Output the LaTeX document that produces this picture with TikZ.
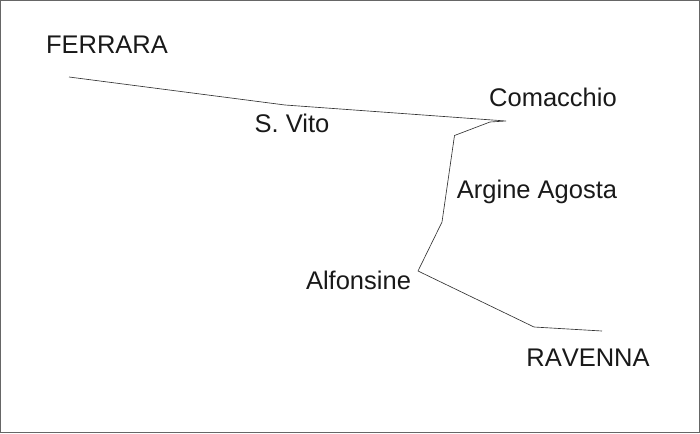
\documentclass[tikz,border=0pt]{standalone}
\usepackage{fontspec}
\setmainfont{Liberation Sans}
\begin{document}
\begin{tikzpicture}[x=1pt,y=-1pt,
  lab/.style={inner sep=0pt,font=\fontsize{25.5}{28}\selectfont,text=black!90},
  route/.style={draw=black!80,line width=0.65pt}]
\useasboundingbox (0,0) rectangle (700,433);
\draw[black!60,line width=0.7pt] (0.4,0.4) rectangle (699.6,432.6);
\node[lab] (ferrara) at (107,44.5) {FERRARA};
\node[lab] (comacchio) at (553,97) {Comacchio};
\node[lab] (svito) at (292,123) {S. Vito};
\node[lab] (argine) at (537,192) {Argine Agosta};
\node[lab] (alfonsine) at (358.5,280) {Alfonsine};
\node[lab] (ravenna) at (588,358) {\addfontfeature{Kerning=Off}RAVENNA};
\coordinate (a) at (69,77);
\coordinate (b) at (285,105);
\coordinate (c) at (506,121);
\coordinate (d) at (490,122);
\coordinate (e) at (454.5,135.5);
\coordinate (f) at (442,222);
\coordinate (g) at (418,271);
\coordinate (h) at (534,327);
\coordinate (i) at (602,331);
\draw[route] (a)--(b)--(c)--(d)--(e)--(f)--(g)--(h)--(i);
\end{tikzpicture}
\end{document}
